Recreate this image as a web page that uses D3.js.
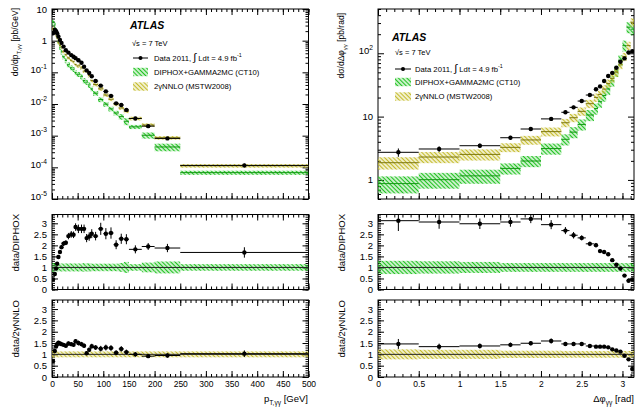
<!DOCTYPE html>
<html>
<head>
<meta charset="utf-8">
<script src="https://cdn.jsdelivr.net/npm/d3@7"></script>
<style>
body { margin: 0; background: #fff; }
svg { font-family: "Liberation Sans", Arial, sans-serif; }
</style>
</head>
<body>
<div id="container"></div>
<script>
'use strict';

// ---- pT(gamma gamma) distribution ----
const ptEdges = [0, 4, 7, 9, 11, 14, 17, 20, 25, 29, 35, 40, 44, 48, 55, 60, 65, 70, 75, 80, 90, 100, 110, 120, 130, 140, 150, 175, 200, 250, 500];
const ptData = [1.7, 2.2, 2.0, 1.7, 1.35, 1.05, 0.85, 0.65, 0.5, 0.42, 0.35, 0.31, 0.28, 0.24, 0.2, 0.15, 0.115, 0.095, 0.075, 0.053, 0.038, 0.025, 0.018, 0.0105, 0.0093, 0.0065, 0.0035, 0.002, 0.00082, 0.000115];
const ptDataErr = [0.08, 0.05, 0.05, 0.05, 0.05, 0.05, 0.05, 0.05, 0.05, 0.06, 0.06, 0.06, 0.06, 0.07, 0.07, 0.07, 0.08, 0.08, 0.08, 0.08, 0.1, 0.1, 0.1, 0.1, 0.1, 0.1, 0.1, 0.08, 0.1, 0.14];
const ptDiphox = [3.78, 3.14, 2.1, 1.45, 0.92, 0.62, 0.44, 0.31, 0.236, 0.174, 0.14, 0.125, 0.099, 0.087, 0.073, 0.055, 0.049, 0.04, 0.03, 0.022, 0.0138, 0.0099, 0.007, 0.0052, 0.004, 0.00285, 0.0019, 0.00103, 0.00044, 0.000068];
const ptDiphoxErr = [0.2, 0.2, 0.18, 0.18, 0.18, 0.18, 0.18, 0.18, 0.18, 0.18, 0.18, 0.18, 0.18, 0.18, 0.18, 0.2, 0.18, 0.2, 0.17, 0.17, 0.17, 0.17, 0.17, 0.17, 0.2, 0.25, 0.15, 0.22, 0.27, 0.15];
const ptNnlo = [2.43, 1.91, 1.48, 1.17, 0.89, 0.71, 0.59, 0.46, 0.36, 0.284, 0.241, 0.218, 0.177, 0.16, 0.138, 0.109, 0.11, 0.079, 0.055, 0.041, 0.03, 0.0192, 0.0141, 0.0098, 0.0075, 0.0059, 0.0035, 0.00217, 0.00086, 0.000112];
const ptNnloErr = [0.15, 0.14, 0.14, 0.13, 0.13, 0.13, 0.13, 0.13, 0.13, 0.13, 0.13, 0.13, 0.13, 0.13, 0.13, 0.13, 0.13, 0.13, 0.13, 0.13, 0.13, 0.13, 0.13, 0.13, 0.13, 0.13, 0.13, 0.13, 0.13, 0.13];
const ptRatioDiphox = [0.45, 0.7, 0.95, 1.17, 1.47, 1.7, 1.92, 2.08, 2.12, 2.42, 2.5, 2.48, 2.83, 2.75, 2.75, 2.75, 2.33, 2.4, 2.53, 2.42, 2.75, 2.53, 2.56, 2.03, 2.3, 2.28, 1.82, 1.95, 1.88, 1.68];
const ptRatioNnlo = [0.7, 1.15, 1.35, 1.45, 1.52, 1.48, 1.45, 1.42, 1.38, 1.48, 1.45, 1.42, 1.58, 1.5, 1.45, 1.38, 1.05, 1.2, 1.36, 1.3, 1.25, 1.3, 1.28, 1.07, 1.24, 1.1, 1.0, 0.92, 0.95, 1.03];

// ---- delta phi(gamma gamma) distribution ----
const phiEdges = [0, 0.5, 1.0, 1.5, 1.75, 2.0, 2.25, 2.35, 2.45, 2.55, 2.65, 2.7, 2.75, 2.8, 2.85, 2.9, 2.95, 3.0, 3.05, 3.1, 3.1416];
const phiData = [2.73, 3.08, 3.47, 4.64, 6.37, 9.2, 11.7, 14, 17.6, 21.9, 27, 30, 36.5, 43.7, 49, 59, 73.6, 83, 103, 108];
const phiDataErr = [0.15, 0.1, 0.08, 0.07, 0.06, 0.07, 0.06, 0.06, 0.05, 0.05, 0.05, 0.05, 0.05, 0.05, 0.05, 0.05, 0.05, 0.05, 0.05, 0.06];
const phiDiphox = [0.875, 1.01, 1.16, 1.52, 1.99, 3.13, 4.38, 5.69, 7.52, 10.6, 13.4, 17.2, 21.5, 27.3, 36.8, 52.7, 77.5, 132, 258, 240];
const phiDiphoxErr = [0.3, 0.28, 0.25, 0.2, 0.2, 0.2, 0.2, 0.2, 0.2, 0.2, 0.2, 0.2, 0.2, 0.2, 0.2, 0.2, 0.2, 0.2, 0.2, 0.2];
const phiNnlo = [1.87, 2.3, 2.53, 3.27, 4.28, 5.79, 8.0, 9.6, 12.1, 16.0, 20.1, 22.4, 27.2, 33.4, 40.2, 50.4, 65.7, 88.3, 132, 309];
const phiNnloErr = [0.22, 0.2, 0.2, 0.16, 0.16, 0.16, 0.15, 0.15, 0.15, 0.15, 0.15, 0.15, 0.15, 0.15, 0.15, 0.15, 0.15, 0.15, 0.15, 0.15];
const phiRatioDiphox = [3.12, 3.06, 2.98, 3.06, 3.2, 2.94, 2.67, 2.46, 2.34, 2.07, 2.01, 1.74, 1.7, 1.6, 1.33, 1.12, 0.95, 0.63, 0.4, 0.45];
const phiRatioNnlo = [1.46, 1.34, 1.37, 1.42, 1.49, 1.59, 1.46, 1.46, 1.46, 1.37, 1.34, 1.34, 1.34, 1.31, 1.22, 1.17, 1.12, 0.94, 0.78, 0.35];

// ---- tick labels ----
const ptTicks = [0, 50, 100, 150, 200, 250, 300, 350, 400, 450, 500];
const phiTicks = [0, 0.5, 1, 1.5, 2, 2.5, 3];
const ratioTicks = [0, 0.5, 1, 1.5, 2, 2.5, 3];
const ptLogTicks = [1e-5, 1e-4, 1e-3, 1e-2, 1e-1, 1, 10];
const phiLogTicks = [1, 10, 100];

let options = {
	width: 637,
	height: 408,
	green: '#22c322',
	greenLine: '#139913',
	yellow: '#c4bb2c',
	yellowLine: '#7d760c',
	xLabelSize: 8.5,
	yLabelSize: 9.5,
};

let svg = d3.select('#container')
	.append('svg')
	.attr('width', options.width)
	.attr('height', options.height);

let defs = svg.append('defs');

function hatch(id, color) {
	let p = defs.append('pattern')
		.attr('id', id)
		.attr('patternUnits', 'userSpaceOnUse')
		.attr('width', 3)
		.attr('height', 3)
		.attr('patternTransform', 'rotate(-45)');
	p.append('line')
		.attr('x1', 1.5).attr('y1', -1).attr('x2', 1.5).attr('y2', 4)
		.attr('stroke', color).attr('stroke-width', 1.5);
}
hatch('hgreen', options.green);
hatch('hyellow', options.yellow);

// panel geometry
const colX = { left: [52, 308.5], right: [378, 634] };
const rowY = { top: [199, 9], mid: [289.5, 214.5], bot: [377, 300] };

const xPt = d3.scaleLinear().domain([0, 500]).range(colX.left);
const xPhi = d3.scaleLinear().domain([0, 3.1416]).range(colX.right);
const yPtTop = d3.scaleLog().domain([1e-5, 10]).range(rowY.top);
const yPhiTop = d3.scaleLog().domain([0.5, 500]).range(rowY.top);
const yMid = d3.scaleLinear().domain([0, 3.4]).range(rowY.mid);
const yBot = d3.scaleLinear().domain([0, 3.4]).range(rowY.bot);

function rich(text, parts, size) {
	let shift = 0;
	parts.forEach((p) => {
		let target = p.sub ? size * 0.32 : p.sup ? -size * 0.42 : 0;
		text.append('tspan')
			.attr('dy', target - shift)
			.attr('font-size', p.size || (p.sub || p.sup ? size * 0.7 : size))
			.text(p.t);
		shift = target;
	});
}

function logMinor(domain) {
	let out = [];
	let lo = Math.floor(Math.log10(domain[0]));
	let hi = Math.ceil(Math.log10(domain[1]));
	for (let e = lo; e < hi; e++) {
		for (let m = 2; m <= 9; m++) {
			let v = m * Math.pow(10, e);
			if (v >= domain[0] && v <= domain[1]) out.push(v);
		}
	}
	return out;
}

function frame(x, y, o) {
	let g = svg.append('g');
	let [x0, x1] = x.range();
	let [y0, y1] = y.range();
	let fmt = (d) => String(d);

	// x minor + major, bottom and top
	g.append('g').attr('transform', `translate(0,${y0})`)
		.call(d3.axisBottom(x).tickValues(o.xMinor).tickSize(-3).tickFormat(''));
	g.append('g').attr('transform', `translate(0,${y1})`)
		.call(d3.axisTop(x).tickValues(o.xMinor).tickSize(-3).tickFormat(''));
	let xl = g.append('g').attr('transform', `translate(0,${y0})`)
		.call(d3.axisBottom(x).tickValues(o.xMajor).tickSize(-6).tickPadding(4)
			.tickFormat(o.xLabels ? fmt : ''));
	g.append('g').attr('transform', `translate(0,${y1})`)
		.call(d3.axisTop(x).tickValues(o.xMajor).tickSize(-6).tickFormat(''));

	// y minor + major, left and right
	g.append('g').attr('transform', `translate(${x0},0)`)
		.call(d3.axisLeft(y).tickValues(o.yMinor).tickSize(-3).tickFormat(''));
	g.append('g').attr('transform', `translate(${x1},0)`)
		.call(d3.axisRight(y).tickValues(o.yMinor).tickSize(-3).tickFormat(''));
	let yl = g.append('g').attr('transform', `translate(${x0},0)`)
		.call(d3.axisLeft(y).tickValues(o.yMajor).tickSize(-6).tickPadding(5)
			.tickFormat(o.log ? '' : fmt));
	g.append('g').attr('transform', `translate(${x1},0)`)
		.call(d3.axisRight(y).tickValues(o.yMajor).tickSize(-6).tickFormat(''));

	g.selectAll('.domain').remove();
	g.selectAll('.tick line').attr('stroke-width', 1);
	g.attr('font-family', '"Liberation Sans", Arial, sans-serif');
	g.selectAll('g').attr('font-family', null);
	xl.selectAll('text').attr('font-size', options.xLabelSize).attr('fill', '#000');
	yl.selectAll('text').attr('font-size', options.yLabelSize).attr('fill', '#000');

	if (o.log) {
		yl.selectAll('.tick text').each(function (d) {
			let n = Math.round(Math.log10(d));
			let t = d3.select(this);
			if (n === 0) t.text('1');
			else if (n === 1) t.text('10');
			else rich(t, [{ t: '10' }, { t: String(n), sup: true }], options.yLabelSize);
		});
	}

	g.append('rect')
		.attr('x', x0).attr('y', y1)
		.attr('width', x1 - x0).attr('height', y0 - y1)
		.attr('fill', 'none').attr('stroke', '#000').attr('stroke-width', 1);
	return g;
}

let clipCount = 0;
function plotArea(x, y) {
	let id = 'clip' + clipCount++;
	let [x0, x1] = x.range();
	let [y0, y1] = y.range();
	defs.append('clipPath').attr('id', id)
		.append('rect').attr('x', x0).attr('y', y1).attr('width', x1 - x0).attr('height', y0 - y1);
	return svg.append('g').attr('clip-path', `url(#${id})`);
}

function bins(edges, values, errs) {
	return values.map((v, i) => ({ lo: edges[i], hi: edges[i + 1], v: v, e: errs[i] }));
}

function band(g, x, y, data, fill, lineColor) {
	g.append('g').selectAll('rect').data(data).join('rect')
		.attr('x', (d) => x(d.lo))
		.attr('width', (d) => x(d.hi) - x(d.lo))
		.attr('y', (d) => y(d.v * (1 + d.e)))
		.attr('height', (d) => y(d.v * (1 - d.e)) - y(d.v * (1 + d.e)))
		.attr('fill', fill);
	if (lineColor) {
		g.append('g').selectAll('line').data(data).join('line')
			.attr('x1', (d) => x(d.lo)).attr('x2', (d) => x(d.hi))
			.attr('y1', (d) => y(d.v)).attr('y2', (d) => y(d.v))
			.attr('stroke', lineColor).attr('stroke-width', 1);
	}
}

function points(g, x, y, data) {
	let p = g.append('g');
	p.selectAll('line.h').data(data).join('line').attr('class', 'h')
		.attr('x1', (d) => x(d.lo)).attr('x2', (d) => x(d.hi))
		.attr('y1', (d) => y(d.v)).attr('y2', (d) => y(d.v))
		.attr('stroke', '#000').attr('stroke-width', 1);
	p.selectAll('line.v').data(data).join('line').attr('class', 'v')
		.attr('x1', (d) => x((d.lo + d.hi) / 2)).attr('x2', (d) => x((d.lo + d.hi) / 2))
		.attr('y1', (d) => y(d.v * (1 - d.e))).attr('y2', (d) => y(d.v * (1 + d.e)))
		.attr('stroke', '#000').attr('stroke-width', 1);
	p.selectAll('circle').data(data).join('circle')
		.attr('cx', (d) => x((d.lo + d.hi) / 2))
		.attr('cy', (d) => y(d.v))
		.attr('r', 2.2)
		.attr('fill', '#000');
}

function ratioPanel(x, y, edges, ratio, dataErr, theoryErr, fill, xOpts) {
	frame(x, y, Object.assign({
		yMajor: ratioTicks,
		yMinor: d3.range(0, 3.41, 0.1),
	}, xOpts));
	let g = plotArea(x, y);
	band(g, x, y, bins(edges, ratio.map(() => 1), theoryErr), fill, null);
	g.append('line')
		.attr('x1', x.range()[0]).attr('x2', x.range()[1])
		.attr('y1', y(1)).attr('y2', y(1))
		.attr('stroke', '#222').attr('stroke-width', 1);
	points(g, x, y, bins(edges, ratio, dataErr));
}

// ---- left column: pT ----
let ptX = { xMajor: ptTicks, xMinor: d3.range(0, 501, 10) };
frame(xPt, yPtTop, Object.assign({ yMajor: ptLogTicks, yMinor: logMinor([1e-5, 10]), log: true }, ptX));
let gPt = plotArea(xPt, yPtTop);
band(gPt, xPt, yPtTop, bins(ptEdges, ptDiphox, ptDiphoxErr), 'url(#hgreen)', options.greenLine);
band(gPt, xPt, yPtTop, bins(ptEdges, ptNnlo, ptNnloErr), 'url(#hyellow)', options.yellowLine);
points(gPt, xPt, yPtTop, bins(ptEdges, ptData, ptDataErr));

ratioPanel(xPt, yMid, ptEdges, ptRatioDiphox, ptDataErr, ptDiphoxErr, 'url(#hgreen)', ptX);
ratioPanel(xPt, yBot, ptEdges, ptRatioNnlo, ptDataErr, ptNnloErr, 'url(#hyellow)', Object.assign({ xLabels: true }, ptX));

// ---- right column: delta phi ----
let phiX = { xMajor: phiTicks, xMinor: d3.range(0, 3.15, 0.1) };
frame(xPhi, yPhiTop, Object.assign({ yMajor: phiLogTicks, yMinor: logMinor([0.5, 500]), log: true }, phiX));
let gPhi = plotArea(xPhi, yPhiTop);
band(gPhi, xPhi, yPhiTop, bins(phiEdges, phiDiphox, phiDiphoxErr), 'url(#hgreen)', options.greenLine);
band(gPhi, xPhi, yPhiTop, bins(phiEdges, phiNnlo, phiNnloErr), 'url(#hyellow)', options.yellowLine);
points(gPhi, xPhi, yPhiTop, bins(phiEdges, phiData, phiDataErr));

ratioPanel(xPhi, yMid, phiEdges, phiRatioDiphox, phiDataErr, phiDiphoxErr, 'url(#hgreen)', phiX);
ratioPanel(xPhi, yBot, phiEdges, phiRatioNnlo, phiDataErr, phiNnloErr, 'url(#hyellow)', Object.assign({ xLabels: true }, phiX));

// ---- axis titles ----
function title(x, y, parts, size, rotate, anchor) {
	let t = svg.append('text')
		.attr('transform', `translate(${x},${y})` + (rotate ? ' rotate(-90)' : ''))
		.attr('text-anchor', anchor)
		.attr('font-size', size)
		.attr('fill', '#000');
	rich(t, parts, size);
	return t;
}
title(18, 8, [{ t: 'dσ/dp' }, { t: 'T,γγ', sub: true }, { t: ' [pb/GeV]' }], 8.5, true, 'end');
title(19, 214, [{ t: 'data/DIPHOX' }], 9.5, true, 'end');
title(19, 300, [{ t: 'data/2γNNLO' }], 9.5, true, 'end');
title(344, 13, [{ t: 'dσ/dΔφ' }, { t: 'γγ', sub: true }, { t: ' [pb/rad]' }], 8.5, true, 'end');
title(345, 214, [{ t: 'data/DIPHOX' }], 9.5, true, 'end');
title(345, 300, [{ t: 'data/2γNNLO' }], 9.5, true, 'end');
title(308, 402, [{ t: 'p' }, { t: 'T,γγ', sub: true }, { t: ' [GeV]' }], 9.5, false, 'end');
title(634, 402, [{ t: 'Δφ' }, { t: 'γγ', sub: true }, { t: ' [rad]' }], 9.5, false, 'end');

// ---- legends ----
function legend(o) {
	let g = svg.append('g');
	g.append('text').attr('x', o.atlasX).attr('y', o.atlasY)
		.attr('font-size', 10.5).attr('font-weight', 'bold').attr('font-style', 'italic')
		.text('ATLAS');
	g.append('text').attr('x', o.sX).attr('y', o.sY).attr('font-size', 7.5).text('√s = 7 TeV');
	let bx = o.boxX, bw = o.boxW;
	g.append('line').attr('x1', bx).attr('x2', bx + bw).attr('y1', o.rows[0]).attr('y2', o.rows[0])
		.attr('stroke', '#000');
	g.append('circle').attr('cx', bx + bw / 2).attr('cy', o.rows[0]).attr('r', 2).attr('fill', '#000');
	let t = g.append('text').attr('x', o.textX).attr('y', o.rows[0] + 2.7).attr('font-size', 7.7);
	rich(t, [{ t: 'Data 2011, ' }, { t: '∫', size: 11 }, { t: ' Ldt = 4.9 fb' }, { t: '-1', sup: true }], 7.7);
	[['url(#hgreen)', 'DIPHOX+GAMMA2MC (CT10)'], ['url(#hyellow)', '2γNNLO (MSTW2008)']].forEach((e, i) => {
		let cy = o.rows[i + 1];
		g.append('rect').attr('x', bx).attr('y', cy - 4.2).attr('width', bw).attr('height', 8.4).attr('fill', e[0]);
		g.append('text').attr('x', o.textX).attr('y', cy + 2.7).attr('font-size', 7.7).text(e[1]);
	});
}
legend({ atlasX: 130, atlasY: 28.5, sX: 132, sY: 46, boxX: 133, boxW: 15, textX: 154, rows: [58, 72, 86.5] });
legend({ atlasX: 392, atlasY: 40.5, sX: 395, sY: 55, boxX: 395, boxW: 16, textX: 415, rows: [69, 82, 96.5] });
</script>
</body>
</html>
